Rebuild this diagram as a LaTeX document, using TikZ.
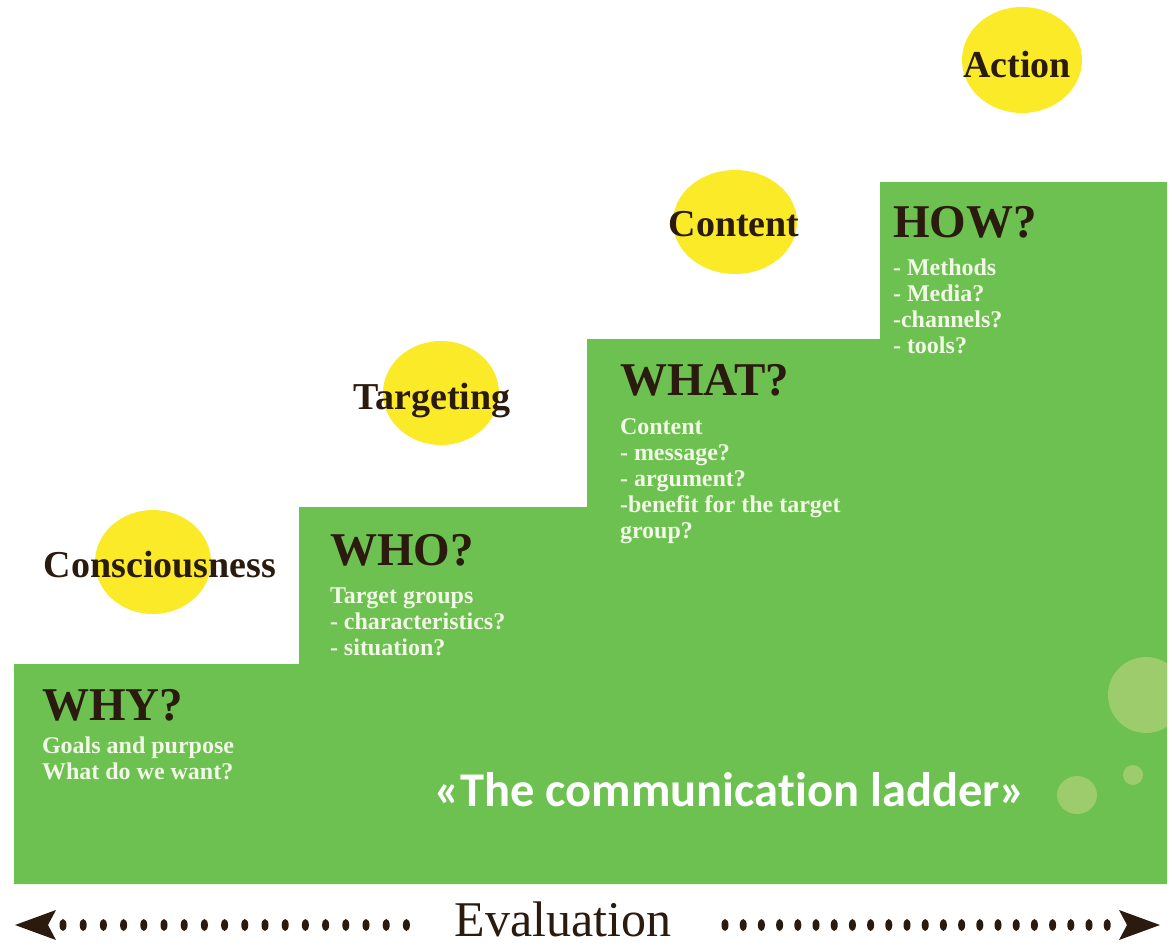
\documentclass[tikz,border=0pt]{standalone}
\usepackage{fontspec}
\usetikzlibrary{shapes.geometric}
\setmainfont{Liberation Serif}
\newfontfamily\ladderfont[Ligatures=NoCommon]{Carlito}
\definecolor{stepgreen}{RGB}{108,193,80}
\definecolor{sunyellow}{RGB}{250,234,40}
\definecolor{inkbrown}{RGB}{43,26,14}
\definecolor{paletext}{RGB}{242,248,230}
\definecolor{bubblegreen}{RGB}{156,204,108}

\begin{document}
\begin{tikzpicture}[x=1pt,y=-1pt]
	\tikzstyle{every node}=[inner sep=0pt, outer sep=0pt]
	\tikzstyle{sun}=[ellipse, fill=sunyellow]
	\tikzstyle{stage}=[text=inkbrown, font=\bfseries\fontsize{38}{40}\selectfont]
	\tikzstyle{question}=[anchor=base west, text=inkbrown, font=\bfseries\fontsize{47}{50}\selectfont]
	\tikzstyle{subtext}=[anchor=base west, align=left, text=paletext, font=\bfseries\fontsize{24}{26}\selectfont]
	\useasboundingbox (0,0) rectangle (1172,946);
	\fill[stepgreen] (14,884) -- (14,664) -- (299,664) -- (299,507) -- (587,507) -- (587,339)
		-- (880,339) -- (880,182) -- (1167,182) -- (1167,884) -- cycle;
	\begin{scope}
		\clip (14,182) rectangle (1167,884);
		\fill[bubblegreen] (1146,695) ellipse [x radius=38, y radius=38];
		\fill[bubblegreen] (1133,775) circle [radius=10];
		\fill[bubblegreen] (1077,795) ellipse [x radius=20, y radius=19];
	\end{scope}
	\node[sun, minimum width=116pt, minimum height=104pt] (consc) at (153,562) {};
	\node[sun, minimum width=116pt, minimum height=104pt] (target) at (441,393) {};
	\node[sun, minimum width=124pt, minimum height=104pt] (content) at (735,222) {};
	\node[sun, minimum width=120pt, minimum height=106pt] (action) at (1022,60) {};
	\node[stage, anchor=base] (consclbl) at (160,577) {Consciousness};
	\node[stage, anchor=base] (targetlbl) at (432,409) {Targeting};
	\node[stage, anchor=base] (contentlbl) at (734,236) {Content};
	\node[stage, anchor=base] (actionlbl) at (1017,77) {Action};
	\node[question] (why) at (42,720) {WHY?};
	\node[subtext] (whytxt) at (42,779) {Goals and purpose\\What do we want?};
	\node[question] (who) at (330,565) {WHO?};
	\node[subtext] (whotxt) at (330,655) {Target groups\\- characteristics?\\- situation?};
	\node[question] (what) at (620,395) {WHAT?};
	\node[subtext] (whattxt) at (620,538) {Content\\- message?\\- argument?\\-benefit for the target\\group?};
	\node[question] (how) at (893,237) {HOW?};
	\node[subtext] (howtxt) at (893,353) {- Methods\\- Media?\\-channels?\\- tools?};
	\node[anchor=base, text=white, font=\ladderfont\bfseries\fontsize{48.5}{50}\selectfont] (title) at (730,806) {«The communication ladder»};
	\node[anchor=base, text=inkbrown, font=\fontsize{50}{52}\selectfont] (eval) at (563,936) {Evaluation};
	\fill[inkbrown] (15,925) -- (56,910) -- (48,925) -- (56,940) -- cycle;
	\fill[inkbrown] (1160,925) -- (1119,910) -- (1127,925) -- (1119,940) -- cycle;
	\foreach \i in {0,...,17}
		\fill[inkbrown] (63+20.2*\i,925) ellipse [x radius=3.5, y radius=6];
	\foreach \i in {0,...,21}
		\fill[inkbrown] (725+18.2*\i,925) ellipse [x radius=3.5, y radius=6];
\end{tikzpicture}
\end{document}
